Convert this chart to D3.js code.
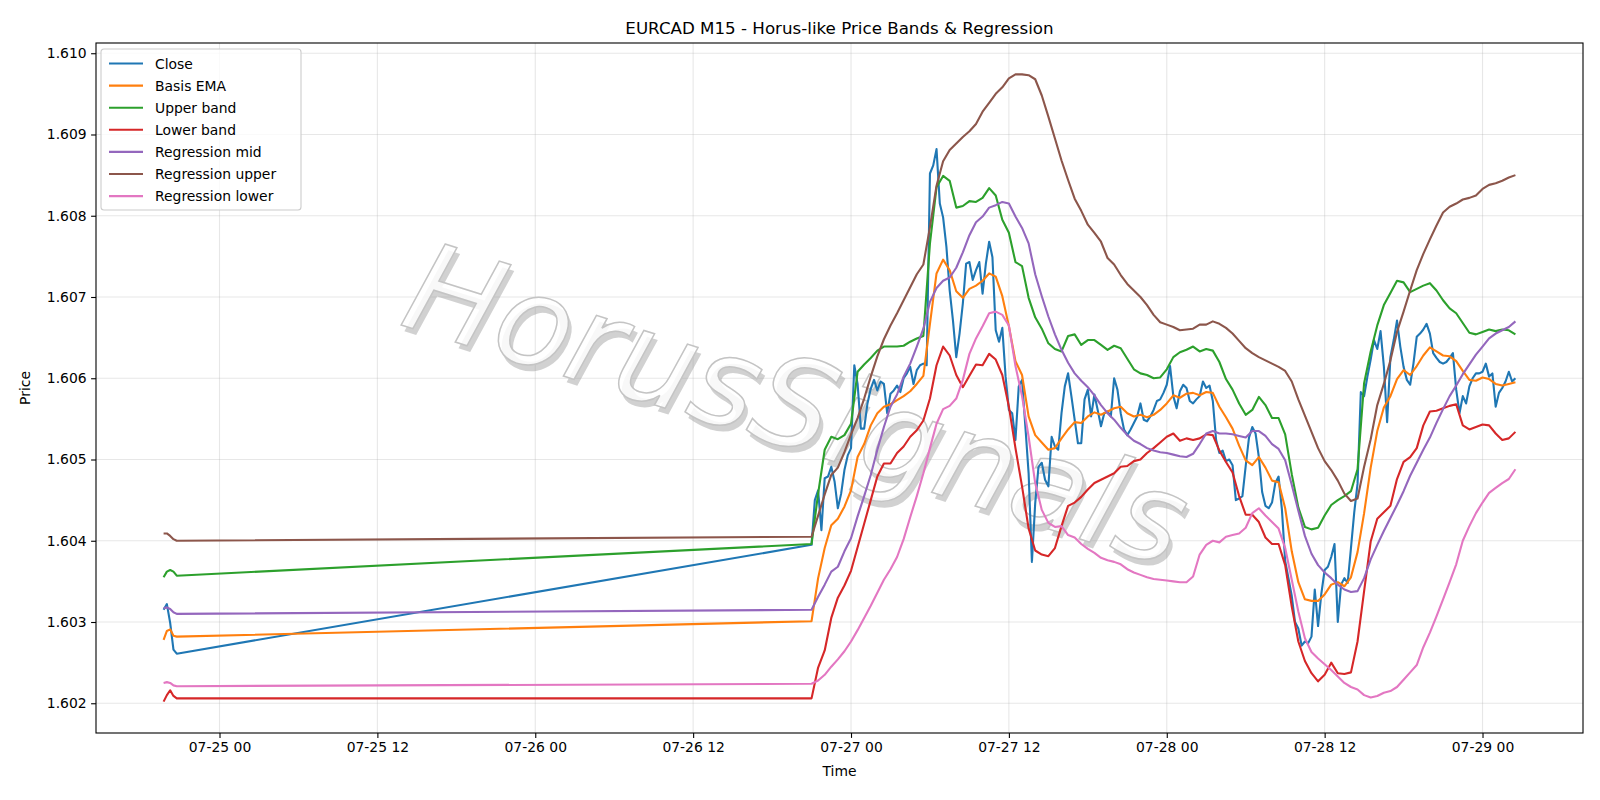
<!DOCTYPE html>
<html>
<head>
<meta charset="utf-8">
<script src="https://cdn.jsdelivr.net/npm/d3@7"></script>
<style>
  body { margin: 0; background: #fff; }
  svg { font-family: "DejaVu Sans", sans-serif; }
</style>
</head>
<body>
<svg id="chart"></svg>
<script>
// two trading sessions: Friday close and Sunday open onward (UTC)
const sessionStarts = ['2020-07-24T19:45:00Z', '2020-07-26T21:00:00Z'];
const closeBars = [5, 215];      // 15 minute bars per session
const bandSteps = [15, 30];      // minutes between band samples per session
const bandBars = [5, 108];

const close = [
  1.60315, 1.60322, 1.60299, 1.60266, 1.60261,
  1.60395, 1.60450, 1.60462, 1.60413, 1.60477, 1.60479, 1.60491, 1.60473, 1.60440, 1.60458,
  1.60487, 1.60505, 1.60514, 1.60616, 1.60593, 1.60538, 1.60538, 1.60569, 1.60587, 1.60598,
  1.60585, 1.60596, 1.60593, 1.60557, 1.60581, 1.60585, 1.60591, 1.60583, 1.60600, 1.60606,
  1.60614, 1.60593, 1.60610, 1.60616, 1.60618, 1.60616, 1.60852, 1.60862, 1.60882, 1.60815,
  1.60798, 1.60762, 1.60708, 1.60671, 1.60626, 1.60655, 1.60692, 1.60741, 1.60743, 1.60721,
  1.60733, 1.60743, 1.60704, 1.60741, 1.60768, 1.60749, 1.60659, 1.60645, 1.60662, 1.60602,
  1.60561, 1.60557, 1.60524, 1.60590, 1.60598, 1.60541, 1.60483, 1.60374, 1.60446, 1.60491,
  1.60496, 1.60475, 1.60467, 1.60528, 1.60516, 1.60512, 1.60557, 1.60590, 1.60606, 1.60578,
  1.60549, 1.60520, 1.60520, 1.60574, 1.60586, 1.60553, 1.60580, 1.60561, 1.60541, 1.60557,
  1.60559, 1.60553, 1.60600, 1.60586, 1.60557, 1.60537, 1.60530, 1.60537, 1.60545, 1.60553,
  1.60569, 1.60549, 1.60547, 1.60553, 1.60561, 1.60572, 1.60574, 1.60582, 1.60592, 1.60615,
  1.60578, 1.60563, 1.60584, 1.60592, 1.60588, 1.60572, 1.60569, 1.60574, 1.60578, 1.60596,
  1.60588, 1.60591, 1.60572, 1.60524, 1.60508, 1.60511, 1.60498, 1.60500, 1.60493, 1.60450,
  1.60452, 1.60455, 1.60492, 1.60527, 1.60540, 1.60532, 1.60503, 1.60460, 1.60443, 1.60440,
  1.60447, 1.60471, 1.60479, 1.60439, 1.60375, 1.60354, 1.60332, 1.60300, 1.60292, 1.60271,
  1.60276, 1.60274, 1.60282, 1.60340, 1.60295, 1.60335, 1.60364, 1.60368, 1.60380, 1.60396,
  1.60300, 1.60346, 1.60354, 1.60348, 1.60391, 1.60435, 1.60470, 1.60583, 1.60578, 1.60602,
  1.60623, 1.60647, 1.60636, 1.60658, 1.60615, 1.60546, 1.60626, 1.60647, 1.60671, 1.60639,
  1.60614, 1.60598, 1.60592, 1.60618, 1.60651, 1.60655, 1.60660, 1.60667, 1.60655, 1.60631,
  1.60625, 1.60620, 1.60618, 1.60620, 1.60625, 1.60631, 1.60586, 1.60557, 1.60578, 1.60569,
  1.60590, 1.60600, 1.60606, 1.60606, 1.60608, 1.60618, 1.60602, 1.60606, 1.60565, 1.60582,
  1.60588, 1.60596, 1.60608, 1.60596, 1.60600
];

const basisEma = [
  1.60278, 1.60289, 1.60291, 1.60283, 1.60282,
  1.60301, 1.60354, 1.60391, 1.60419, 1.60427, 1.60442, 1.60462, 1.60503, 1.60519, 1.60542,
  1.60557, 1.60565, 1.60568, 1.60573, 1.60578, 1.60584, 1.60593, 1.60603, 1.60667, 1.60729,
  1.60746, 1.60733, 1.60707, 1.60699, 1.60710, 1.60714, 1.60720, 1.60729, 1.60725, 1.60701,
  1.60664, 1.60621, 1.60604, 1.60553, 1.60530, 1.60521, 1.60512, 1.60514, 1.60526, 1.60537,
  1.60546, 1.60545, 1.60553, 1.60558, 1.60555, 1.60559, 1.60563, 1.60565, 1.60557, 1.60553,
  1.60555, 1.60552, 1.60555, 1.60561, 1.60569, 1.60579, 1.60576, 1.60581, 1.60582, 1.60579,
  1.60583, 1.60582, 1.60565, 1.60552, 1.60538, 1.60517, 1.60499, 1.60493, 1.60503, 1.60490,
  1.60474, 1.60472, 1.60440, 1.60387, 1.60349, 1.60328, 1.60326, 1.60326, 1.60334, 1.60346,
  1.60349, 1.60344, 1.60355, 1.60386, 1.60434, 1.60490, 1.60535, 1.60564, 1.60578, 1.60599,
  1.60610, 1.60604, 1.60615, 1.60628, 1.60638, 1.60633, 1.60628, 1.60627, 1.60621, 1.60609,
  1.60598, 1.60597, 1.60601, 1.60599, 1.60593, 1.60591, 1.60593, 1.60595
];

const upperBand = [
  1.60355, 1.60362, 1.60364, 1.60362, 1.60357,
  1.60396, 1.60458, 1.60512, 1.60528, 1.60525, 1.60530, 1.60544, 1.60608, 1.60617, 1.60625,
  1.60634, 1.60639, 1.60639, 1.60639, 1.60640, 1.60645, 1.60649, 1.60652, 1.60766, 1.60835,
  1.60849, 1.60843, 1.60810, 1.60812, 1.60818, 1.60817, 1.60822, 1.60834, 1.60825, 1.60795,
  1.60779, 1.60743, 1.60738, 1.60699, 1.60675, 1.60661, 1.60643, 1.60636, 1.60633, 1.60652,
  1.60654, 1.60641, 1.60647, 1.60647, 1.60641, 1.60635, 1.60640, 1.60637, 1.60624, 1.60611,
  1.60606, 1.60604, 1.60600, 1.60601, 1.60611, 1.60626, 1.60632, 1.60635, 1.60639, 1.60633,
  1.60636, 1.60634, 1.60620, 1.60599, 1.60586, 1.60569, 1.60555, 1.60561, 1.60577, 1.60567,
  1.60551, 1.60551, 1.60531, 1.60482, 1.60441, 1.60417, 1.60414, 1.60416, 1.60431, 1.60444,
  1.60450, 1.60455, 1.60461, 1.60488, 1.60594, 1.60633, 1.60665, 1.60690, 1.60705, 1.60720,
  1.60718, 1.60706, 1.60710, 1.60714, 1.60717, 1.60708, 1.60696, 1.60686, 1.60680, 1.60668,
  1.60656, 1.60654, 1.60657, 1.60660, 1.60658, 1.60660, 1.60659, 1.60654
];

const lowerBand = [
  1.60202, 1.60210, 1.60216, 1.60209, 1.60206,
  1.60206, 1.60244, 1.60265, 1.60305, 1.60330, 1.60345, 1.60363, 1.60392, 1.60421, 1.60450,
  1.60479, 1.60495, 1.60495, 1.60508, 1.60516, 1.60528, 1.60536, 1.60548, 1.60575, 1.60616,
  1.60639, 1.60628, 1.60604, 1.60589, 1.60603, 1.60617, 1.60616, 1.60630, 1.60623, 1.60604,
  1.60565, 1.60514, 1.60467, 1.60415, 1.60388, 1.60383, 1.60381, 1.60391, 1.60418, 1.60443,
  1.60447, 1.60454, 1.60463, 1.60471, 1.60475, 1.60479, 1.60483, 1.60491, 1.60492, 1.60498,
  1.60500, 1.60508, 1.60514, 1.60521, 1.60528, 1.60532, 1.60523, 1.60526, 1.60524, 1.60526,
  1.60531, 1.60530, 1.60511, 1.60497, 1.60484, 1.60455, 1.60432, 1.60432, 1.60423, 1.60404,
  1.60396, 1.60396, 1.60370, 1.60319, 1.60276, 1.60252, 1.60237, 1.60227, 1.60235, 1.60250,
  1.60237, 1.60236, 1.60238, 1.60276, 1.60338, 1.60399, 1.60427, 1.60435, 1.60443, 1.60476,
  1.60497, 1.60503, 1.60514, 1.60542, 1.60559, 1.60560, 1.60563, 1.60566, 1.60568, 1.60542,
  1.60537, 1.60540, 1.60543, 1.60542, 1.60532, 1.60524, 1.60526, 1.60534
];

const regMid = [
  1.60317, 1.60318, 1.60316, 1.60312, 1.60310,
  1.60315, 1.60331, 1.60346, 1.60362, 1.60368, 1.60387, 1.60403, 1.60430, 1.60455, 1.60481,
  1.60512, 1.60540, 1.60565, 1.60580, 1.60602, 1.60618, 1.60639, 1.60661, 1.60694, 1.60711,
  1.60720, 1.60724, 1.60736, 1.60755, 1.60776, 1.60792, 1.60799, 1.60810, 1.60813, 1.60817,
  1.60815, 1.60799, 1.60785, 1.60766, 1.60728, 1.60701, 1.60676, 1.60654, 1.60635, 1.60619,
  1.60606, 1.60597, 1.60589, 1.60579, 1.60567, 1.60557, 1.60549, 1.60539, 1.60530, 1.60523,
  1.60519, 1.60514, 1.60511, 1.60509, 1.60508, 1.60506, 1.60504, 1.60503, 1.60507, 1.60519,
  1.60532, 1.60535, 1.60532, 1.60532, 1.60531, 1.60529, 1.60527, 1.60535, 1.60535, 1.60529,
  1.60519, 1.60513, 1.60499, 1.60469, 1.60437, 1.60406, 1.60384, 1.60370, 1.60361, 1.60354,
  1.60346, 1.60340, 1.60337, 1.60338, 1.60354, 1.60377, 1.60395, 1.60412, 1.60428, 1.60444,
  1.60461, 1.60480, 1.60496, 1.60512, 1.60527, 1.60545, 1.60562, 1.60578, 1.60591, 1.60605,
  1.60617, 1.60629, 1.60639, 1.60649, 1.60655, 1.60659, 1.60663, 1.60670
];

const regUpper = [
  1.60409, 1.60409, 1.60406, 1.60402, 1.60400,
  1.60405, 1.60431, 1.60457, 1.60481, 1.60490, 1.60509, 1.60531, 1.60551, 1.60575, 1.60602,
  1.60627, 1.60648, 1.60665, 1.60680, 1.60696, 1.60712, 1.60728, 1.60740, 1.60786, 1.60837,
  1.60867, 1.60881, 1.60889, 1.60897, 1.60904, 1.60913, 1.60928, 1.60939, 1.60950, 1.60958,
  1.60969, 1.60974, 1.60974, 1.60973, 1.60968, 1.60948, 1.60922, 1.60895, 1.60868, 1.60844,
  1.60821, 1.60806, 1.60789, 1.60779, 1.60768, 1.60748, 1.60740, 1.60727, 1.60716, 1.60708,
  1.60700, 1.60690, 1.60678, 1.60669, 1.60666, 1.60663, 1.60659, 1.60660, 1.60661, 1.60666,
  1.60666, 1.60670, 1.60667, 1.60662, 1.60655, 1.60646, 1.60637, 1.60631, 1.60626, 1.60622,
  1.60618, 1.60614, 1.60609, 1.60596, 1.60574, 1.60554, 1.60534, 1.60514, 1.60498, 1.60487,
  1.60474, 1.60458, 1.60449, 1.60452, 1.60491, 1.60525, 1.60567, 1.60593, 1.60622, 1.60657,
  1.60682, 1.60708, 1.60733, 1.60753, 1.60771, 1.60788, 1.60804, 1.60811, 1.60815, 1.60820,
  1.60822, 1.60825, 1.60833, 1.60838, 1.60840, 1.60843, 1.60847, 1.60850
];

const regLower = [
  1.60225, 1.60226, 1.60225, 1.60222, 1.60221,
  1.60224, 1.60228, 1.60235, 1.60245, 1.60254, 1.60264, 1.60276, 1.60290, 1.60305, 1.60320,
  1.60336, 1.60352, 1.60365, 1.60380, 1.60402, 1.60429, 1.60455, 1.60483, 1.60514, 1.60544,
  1.60562, 1.60566, 1.60575, 1.60598, 1.60630, 1.60649, 1.60664, 1.60680, 1.60682, 1.60678,
  1.60665, 1.60615, 1.60578, 1.60528, 1.60471, 1.60438, 1.60422, 1.60417, 1.60418, 1.60407,
  1.60404, 1.60396, 1.60390, 1.60385, 1.60379, 1.60376, 1.60374, 1.60371, 1.60365, 1.60361,
  1.60358, 1.60355, 1.60353, 1.60352, 1.60351, 1.60350, 1.60349, 1.60349, 1.60356, 1.60383,
  1.60395, 1.60400, 1.60398, 1.60405, 1.60407, 1.60409, 1.60416, 1.60434, 1.60440, 1.60431,
  1.60423, 1.60415, 1.60391, 1.60352, 1.60313, 1.60280, 1.60263, 1.60255, 1.60248, 1.60241,
  1.60233, 1.60225, 1.60220, 1.60217, 1.60210, 1.60207, 1.60209, 1.60213, 1.60215, 1.60220,
  1.60229, 1.60238, 1.60247, 1.60269, 1.60287, 1.60307, 1.60328, 1.60349, 1.60371, 1.60400,
  1.60418, 1.60434, 1.60447, 1.60459, 1.60465, 1.60471, 1.60476, 1.60488
];

const xTickDates = ['2020-07-25T00:00:00Z', '2020-07-25T12:00:00Z', '2020-07-26T00:00:00Z',
  '2020-07-26T12:00:00Z', '2020-07-27T00:00:00Z', '2020-07-27T12:00:00Z', '2020-07-28T00:00:00Z',
  '2020-07-28T12:00:00Z', '2020-07-29T00:00:00Z'];
const yTicks = [1.602, 1.603, 1.604, 1.605, 1.606, 1.607, 1.608, 1.609, 1.610];

const series = [
  {name: 'Close', values: close, color: '#1f77b4'},
  {name: 'Basis EMA', values: basisEma, color: '#ff7f0e'},
  {name: 'Upper band', values: upperBand, color: '#2ca02c'},
  {name: 'Lower band', values: lowerBand, color: '#d62728'},
  {name: 'Regression mid', values: regMid, color: '#9467bd'},
  {name: 'Regression upper', values: regUpper, color: '#8c564b'},
  {name: 'Regression lower', values: regLower, color: '#e377c2'}
];

// bar timestamps for each session
function sessionTimes(counts, steps) {
  const out = [];
  sessionStarts.forEach((s, j) => {
    const t0 = Date.parse(s);
    d3.range(counts[j]).forEach(i => out.push(new Date(t0 + i * steps[j] * 60000)));
  });
  return out;
}
const closeTimes = sessionTimes(closeBars, [15, 15]);
const bandTimes = sessionTimes(bandBars, bandSteps);

series.forEach(s => {
  const times = s.name === 'Close' ? closeTimes : bandTimes;
  s.points = s.values.map((v, i) => ({t: times[i], v}));
});

const W = 1600, H = 800;
const margin = {top: 43, right: 17, bottom: 67, left: 96};
const width = W - margin.left - margin.right;
const height = H - margin.top - margin.bottom;

// matplotlib style 5% padding on both axes
const tExt = d3.extent(closeTimes);
const tPad = (tExt[1] - tExt[0]) * 0.05;
const allVals = series.flatMap(s => s.values);
const vExt = d3.extent(allVals);
const vPad = (vExt[1] - vExt[0]) * 0.05;

const xScale = d3.scaleUtc()
    .domain([new Date(+tExt[0] - tPad), new Date(+tExt[1] + tPad)])
    .range([0, width]);

const yScale = d3.scaleLinear()
    .domain([vExt[0] - vPad, vExt[1] + vPad])
    .range([height, 0]);

const svg = d3.select('#chart')
    .attr('width', W)
    .attr('height', H);

svg.append('rect').attr('width', W).attr('height', H).attr('fill', '#fff');

const g = svg.append('g')
    .attr('transform', `translate(${margin.left},${margin.top})`);

svg.append('defs')
    .append('clipPath')
    .attr('id', 'clip')
    .append('rect')
    .attr('width', width)
    .attr('height', height);

// grid
const xTicks = xTickDates.map(d => new Date(d));
g.append('g').selectAll('line')
    .data(xTicks)
    .join('line')
    .attr('x1', d => xScale(d)).attr('x2', d => xScale(d))
    .attr('y1', 0).attr('y2', height)
    .attr('stroke', '#b0b0b0').attr('stroke-opacity', 0.3).attr('stroke-width', 1.1);
g.append('g').selectAll('line')
    .data(yTicks)
    .join('line')
    .attr('x1', 0).attr('x2', width)
    .attr('y1', d => yScale(d)).attr('y2', d => yScale(d))
    .attr('stroke', '#b0b0b0').attr('stroke-opacity', 0.3).attr('stroke-width', 1.1);

// watermark
const wm = g.append('g')
    .attr('transform', 'translate(698,370) rotate(17.5)')
    .style('font-style', 'italic')
    .style('font-size', '124px')
    .attr('text-anchor', 'middle')
    .attr('dominant-baseline', 'middle');
wm.append('text')
    .attr('x', 5).attr('y', 5)
    .attr('fill', '#9a9a9a').attr('fill-opacity', 0.45)
    .text('HorusSignals');
wm.append('text')
    .attr('fill', '#ffffff').attr('fill-opacity', 0.85)
    .attr('stroke', '#c4c4c4').attr('stroke-width', 1.5)
    .text('HorusSignals');

// lines
const line = d3.line()
    .x(d => xScale(d.t))
    .y(d => yScale(d.v));

const lines = g.append('g').attr('clip-path', 'url(#clip)');
series.forEach(s => {
  lines.append('path')
      .datum(s.points)
      .attr('fill', 'none')
      .attr('stroke', s.color)
      .attr('stroke-width', 2.1)
      .attr('stroke-linejoin', 'round')
      .attr('d', line);
});

// axes
const xAxis = d3.axisBottom(xScale)
    .tickValues(xTicks)
    .tickFormat(d3.utcFormat('%m-%d %H'))
    .tickSizeOuter(0)
    .tickSize(4.9)
    .tickPadding(4);
const yAxis = d3.axisLeft(yScale)
    .tickValues(yTicks)
    .tickFormat(d3.format('.3f'))
    .tickSizeOuter(0)
    .tickSize(4.9)
    .tickPadding(4.5);

const gx = g.append('g')
    .attr('transform', `translate(0,${height})`)
    .call(xAxis);
const gy = g.append('g').call(yAxis);
[gx, gy].forEach(a => {
  a.select('.domain').remove();
  a.selectAll('text').attr('font-size', '13.9px').attr('fill', '#000')
      .attr('font-family', '"DejaVu Sans", sans-serif');
  a.selectAll('line').attr('stroke', '#000').attr('stroke-width', 1.1);
});

// frame
g.append('rect')
    .attr('width', width).attr('height', height)
    .attr('fill', 'none').attr('stroke', '#000').attr('stroke-width', 1.1);

// titles
svg.append('text')
    .attr('x', margin.left + width / 2).attr('y', 34)
    .attr('text-anchor', 'middle')
    .attr('font-size', '16.7px')
    .text('EURCAD M15 - Horus-like Price Bands & Regression');
svg.append('text')
    .attr('x', margin.left + width / 2).attr('y', 776)
    .attr('text-anchor', 'middle')
    .attr('font-size', '13.9px')
    .text('Time');
svg.append('text')
    .attr('transform', `translate(30,${margin.top + height / 2}) rotate(-90)`)
    .attr('text-anchor', 'middle')
    .attr('font-size', '13.9px')
    .text('Price');

// legend
const lg = g.append('g').attr('transform', 'translate(5,6)');
lg.append('rect')
    .attr('width', 200).attr('height', 161)
    .attr('rx', 3)
    .attr('fill', '#fff').attr('fill-opacity', 0.8)
    .attr('stroke', '#cccccc').attr('stroke-width', 1.1);
const items = lg.selectAll('g.item')
    .data(series)
    .join('g')
    .attr('class', 'item')
    .attr('transform', (d, i) => `translate(0,${14.5 + i * 22.1})`);
items.append('line')
    .attr('x1', 8).attr('x2', 42)
    .attr('stroke', d => d.color).attr('stroke-width', 2.1);
items.append('text')
    .attr('x', 54).attr('dy', '0.36em')
    .attr('font-size', '13.9px')
    .text(d => d.name);
</script>
</body>
</html>
